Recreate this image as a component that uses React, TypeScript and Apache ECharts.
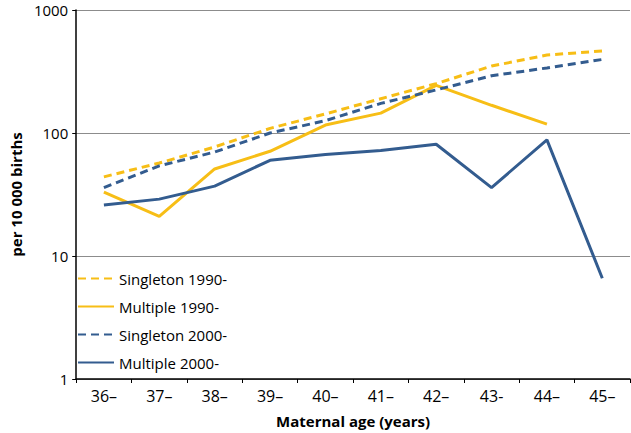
import React, { useEffect, useRef } from "react";
import * as echarts from "echarts";

const categories = ["36–", "37–", "38–", "39–", "40–", "41–", "42–", "43-", "44–", "45–"];
const singleton1990 = [44, 57, 77, 109, 143, 190, 252, 350, 430, 465];
const multiple1990: (number | null)[] = [33, 21, 51, 71, 116, 145, 244, 168, 118, null];
const singleton2000 = [36, 54, 70, 100, 126, 174, 224, 292, 338, 396];
const multiple2000 = [26, 29, 37, 60, 67, 72, 81, 36, 88, 6.6];
const yTicks = [1, 10, 100, 1000];

const YELLOW = "#F7BE16";
const BLUE = "#335C8F";
const FONT = "'Open Sans', sans-serif";

export default function App() {
  const ref = useRef<HTMLDivElement>(null);
  useEffect(() => {
    if (!ref.current) return;
    const chart = echarts.init(ref.current, undefined, { renderer: "svg" });
    const mk = (name: string, data: (number | null)[], color: string, dashed: boolean) => ({
      name,
      type: "line",
      data,
      symbol: "none",
      connectNulls: false,
      lineStyle: { color, width: 3, type: dashed ? [8, 5] : "solid" },
      itemStyle: { color },
    });
    chart.setOption({
      animation: false,
      textStyle: { fontFamily: FONT },
      grid: { left: 63, right: 1, top: 10, bottom: 52 },
      legend: {
        orient: "vertical",
        left: 72,
        top: 266,
        itemWidth: 36,
        itemHeight: 12,
        itemGap: 13,
        itemStyle: { opacity: 0 },
        textStyle: { fontFamily: FONT, fontSize: 15, color: "#000" },
        data: ["Singleton 1990-", "Multiple 1990-", "Singleton 2000-", "Multiple 2000-"],
      },
      xAxis: {
        type: "category",
        data: categories,
        boundaryGap: true,
        name: "Maternal age (years)",
        nameLocation: "middle",
        nameGap: 34,
        nameTextStyle: { fontFamily: FONT, fontSize: 15, fontWeight: "bold", color: "#000" },
        axisLine: { lineStyle: { color: "#000", width: 1.5 } },
        axisTick: { show: true, length: 4, lineStyle: { color: "#000" } },
        axisLabel: { fontFamily: FONT, fontSize: 16, color: "#000", margin: 9 },
        splitLine: { show: false },
      },
      yAxis: {
        type: "log",
        logBase: 10,
        min: yTicks[0],
        max: yTicks[yTicks.length - 1],
        name: "per 10 000 births",
        nameLocation: "middle",
        nameGap: 50,
        nameRotate: 90,
        nameTextStyle: { fontFamily: FONT, fontSize: 15, fontWeight: "bold", color: "#000" },
        axisLine: { show: true, lineStyle: { color: "#000", width: 1.5 } },
        axisTick: { show: true, length: 4, lineStyle: { color: "#000" } },
        axisLabel: { fontFamily: FONT, fontSize: 15, color: "#000", margin: 8, formatter: (v: number) => String(v) },
        splitLine: { show: true, lineStyle: { color: "#8c8c8c", width: 1 } },
        minorTick: { show: false },
      },
      series: [
        mk("Singleton 1990-", singleton1990, YELLOW, true),
        mk("Multiple 1990-", multiple1990, YELLOW, false),
        mk("Singleton 2000-", singleton2000, BLUE, true),
        mk("Multiple 2000-", multiple2000, BLUE, false),
      ],
    });
    return () => chart.dispose();
  }, []);
  return <div ref={ref} style={{ width: 631, height: 433, position: "absolute", left: 0, top: 0 }} />;
}
